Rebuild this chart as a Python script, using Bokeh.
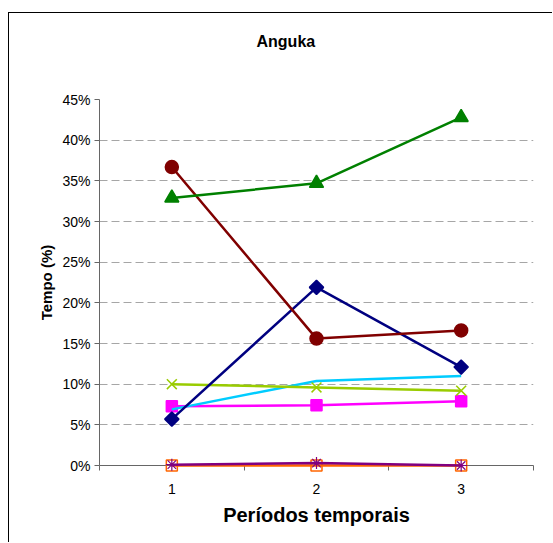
import math
from bokeh.plotting import figure
from bokeh.models import Range1d, FixedTicker, NumeralTickFormatter, Title
from bokeh.embed import file_html
from bokeh.resources import INLINE

# ---- data ----
chart_title = "Anguka"
periods = [1, 2, 3]
period_labels = {1: "1", 2: "2", 3: "3"}
y_ticks = [0, 0.05, 0.10, 0.15, 0.20, 0.25, 0.30, 0.35, 0.40, 0.45]

serie_orange = [0.0, 0.0, 0.0]
serie_purple = [0.001, 0.003, 0.0]
serie_magenta = [0.073, 0.074, 0.079]
serie_cyan = [0.069, 0.104, 0.110]
serie_yellowgreen = [0.100, 0.096, 0.092]
serie_navy = [0.057, 0.219, 0.121]
serie_darkred = [0.367, 0.156, 0.166]
serie_green = [0.329, 0.347, 0.428]

FONT = "Liberation Sans"
TXT = "#000000"

p = figure(width=544, height=530, x_range=Range1d(0.5, 3.5), y_range=Range1d(0.0, 0.45),
           output_backend="svg", toolbar_location=None,
           min_border_left=90, min_border_right=20, min_border_top=86, min_border_bottom=78)
p.margin = (12, 0, 0, 8)
p.styles = {"border-left": "1px solid #000000", "border-top": "1px solid #000000"}
p.outline_line_color = None
p.background_fill_color = "white"
p.border_fill_color = "white"

# spacer between the title and the plot area, then the title itself
spacer = Title(text=" ", text_font=FONT, text_font_size="10px", standoff=37)
p.add_layout(spacer, "above")
main_title = Title(text=chart_title, text_font=FONT, text_font_size="16px",
                   text_font_style="bold", text_color=TXT, align="left",
                   offset=157, standoff=0)
p.add_layout(main_title, "above")

# grid
p.xgrid.grid_line_color = None
p.ygrid.grid_line_color = "#A6A6A6"
p.ygrid.grid_line_dash = "8 4"
p.ygrid.grid_line_width = 1
p.ygrid.ticker = FixedTicker(ticks=y_ticks[1:])

# y axis
p.yaxis.ticker = FixedTicker(ticks=y_ticks)
p.yaxis.formatter = NumeralTickFormatter(format="0%")
p.yaxis.axis_label = "Tempo (%)"
p.yaxis.axis_label_text_font = FONT
p.yaxis.axis_label_text_font_size = "15px"
p.yaxis.axis_label_text_font_style = "bold"
p.yaxis.axis_label_text_color = TXT
p.yaxis.axis_label_standoff = 4
p.yaxis.major_label_text_font = FONT
p.yaxis.major_label_text_font_size = "14px"
p.yaxis.major_label_text_color = TXT
p.yaxis.major_label_standoff = 4
p.yaxis.major_tick_out = 5
p.yaxis.major_tick_in = 0
p.yaxis.minor_tick_out = 0
p.yaxis.minor_tick_in = 0
p.yaxis.axis_line_color = "#666666"
p.yaxis.major_tick_line_color = "#666666"

# x axis
p.xaxis.ticker = FixedTicker(ticks=periods, minor_ticks=[0.5, 1.5, 2.5, 3.5])
p.xaxis.major_label_overrides = period_labels
p.xaxis.axis_label = "Períodos temporais"
p.xaxis.axis_label_text_font = FONT
p.xaxis.axis_label_text_font_size = "20px"
p.xaxis.axis_label_text_font_style = "bold"
p.xaxis.axis_label_text_color = TXT
p.xaxis.axis_label_standoff = 7
p.xaxis.major_label_text_font = FONT
p.xaxis.major_label_text_font_size = "14px"
p.xaxis.major_label_text_color = TXT
p.xaxis.major_label_standoff = 13
p.xaxis.major_tick_out = 0
p.xaxis.major_tick_in = 0
p.xaxis.minor_tick_out = 5
p.xaxis.minor_tick_in = 0
p.xaxis.axis_line_color = "#666666"
p.xaxis.minor_tick_line_color = "#666666"

LW = 2.5

def series(vals, color, marker=None, size=11, fill=True, mlw=1.5, angle=0.0):
    r = p.line(periods, vals, line_color=color, line_width=LW)
    r.level = "overlay"
    if marker is not None:
        m = p.scatter(periods, vals, marker=marker, size=size, angle=angle,
                      fill_color=color if fill else None, line_color=color, line_width=mlw)
        m.level = "overlay"

series(serie_orange, "#FF6600", "square", size=11, fill=False, mlw=1.5)
series(serie_purple, "#800080", "asterisk", size=12, fill=False, mlw=1.2)
series(serie_magenta, "#FF00FF", "square", size=11)
series(serie_cyan, "#00CCFF", None)
series(serie_yellowgreen, "#99CC00", "x", size=14, fill=False, mlw=1.5)
series(serie_navy, "#000080", "square", size=10, angle=math.pi / 4)
series(serie_darkred, "#800000", "circle", size=13)
series(serie_green, "#008000", "triangle", size=14)

open("out.html", "w").write(file_html(p, INLINE))
